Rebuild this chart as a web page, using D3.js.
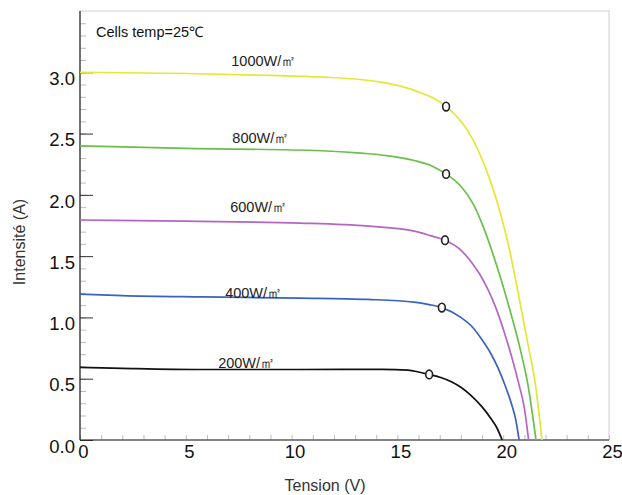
<!DOCTYPE html>
<html>
<head>
<meta charset="utf-8">
<script src="https://cdn.jsdelivr.net/npm/d3@7"></script>
<style>
  body { margin: 0; background: #fff; }
  svg { display: block; font-family: "Liberation Sans", Arial, sans-serif; }
</style>
</head>
<body>
<script>
// I-V curves (V in volts, I in amps)
const irradiance = ["1000W/㎡", "800W/㎡", "600W/㎡", "400W/㎡", "200W/㎡"];
const colors = ["#e6e636", "#6abf4b", "#b565c2", "#3a62c0", "#111111"];

const v1000 = [0, 5, 9, 11.5, 13, 14.2, 15.2, 16, 16.7, 17.3, 17.8, 18.3, 18.8, 19.4, 19.9, 20.3, 20.65, 21.15, 21.55, 21.83];
const i1000 = [3.0, 2.99, 2.975, 2.96, 2.945, 2.92, 2.885, 2.84, 2.79, 2.72, 2.64, 2.53, 2.37, 2.11, 1.83, 1.55, 1.25, 0.80, 0.42, 0];

const v800 = [0, 5, 11.4, 13.3, 14.5, 15.8, 16.7, 17.3, 18.0, 18.6, 19.1, 19.55, 19.95, 20.3, 20.75, 21.2, 21.55];
const i800 = [2.40, 2.38, 2.36, 2.34, 2.32, 2.28, 2.23, 2.17, 2.07, 1.92, 1.72, 1.50, 1.28, 1.07, 0.78, 0.42, 0];

const v600 = [0, 5, 10.4, 13.6, 15.9, 16.6, 17.25, 18.0, 18.5, 18.9, 19.3, 19.65, 20.05, 20.4, 20.75, 21.0, 21.2];
const i600 = [1.795, 1.785, 1.77, 1.745, 1.70, 1.665, 1.63, 1.55, 1.45, 1.35, 1.22, 1.08, 0.88, 0.68, 0.45, 0.26, 0];

const v400 = [0, 2, 5.7, 10.4, 13.6, 15.8, 16.5, 17.1, 18.0, 18.5, 18.95, 19.4, 19.75, 20.1, 20.4, 20.6, 20.75];
const i400 = [1.19, 1.178, 1.167, 1.158, 1.147, 1.125, 1.105, 1.08, 1.00, 0.93, 0.83, 0.71, 0.59, 0.44, 0.29, 0.16, 0];

const v200 = [0, 2, 5.7, 10.4, 14.3, 15.5, 16.0, 16.5, 17.05, 17.55, 18.0, 18.5, 19.0, 19.4, 19.7, 19.95];
const i200 = [0.593, 0.585, 0.575, 0.575, 0.577, 0.57, 0.555, 0.535, 0.51, 0.475, 0.43, 0.36, 0.27, 0.18, 0.10, 0];

// maximum power points (open circles)
const mppV = [17.3, 17.3, 17.25, 17.1, 16.5];
const mppI = [2.72, 2.17, 1.63, 1.08, 0.535];

// where each curve label sits, in data units
const labelV = [7.15, 7.2, 7.1, 6.86, 6.53];
const labelI = [3.05, 2.42, 1.86, 1.16, 0.59];

const xTicks = [0, 5, 10, 15, 20, 25];
const yTicks = [0, 0.5, 1.0, 1.5, 2.0, 2.5, 3.0];

const voltages = [v1000, v800, v600, v400, v200];
const currents = [i1000, i800, i600, i400, i200];

const width = 622, height = 495;
const plotLeft = 80, plotRight = 609, plotTop = 11, plotBottom = 440;

const x = d3.scaleLinear().domain([0, 25]).range([plotLeft, plotRight]);
const y = d3.scaleLinear().domain([0, 3.5]).range([plotBottom, plotTop]);

const svg = d3.select("body").append("svg")
    .attr("width", width)
    .attr("height", height);

// light frame on top and right
svg.append("rect")
    .attr("x", plotLeft).attr("y", plotTop)
    .attr("width", plotRight - plotLeft).attr("height", plotBottom - plotTop)
    .attr("fill", "none")
    .attr("stroke", "#cfcfcf");

// minor ticks
svg.append("g")
    .attr("transform", "translate(0," + plotBottom + ")")
    .call(d3.axisBottom(x).tickValues(d3.range(0, 26, 1)).tickSize(-5).tickFormat(""))
    .call(g => g.select(".domain").remove())
    .selectAll("line").attr("stroke", "#bbb");

svg.append("g")
    .attr("transform", "translate(" + plotLeft + ",0)")
    .call(d3.axisLeft(y).tickValues(d3.range(0, 35, 1).map(d => d / 10)).tickSize(-6).tickFormat(""))
    .call(g => g.select(".domain").remove())
    .selectAll("line").attr("stroke", "#bbb");

// major y ticks
svg.append("g")
    .attr("transform", "translate(" + plotLeft + ",0)")
    .call(d3.axisLeft(y).tickValues(yTicks).tickSize(-13).tickFormat(""))
    .call(g => g.select(".domain").remove())
    .selectAll("line").attr("stroke", "#333");

// tick labels
const yAxis = svg.append("g")
    .attr("transform", "translate(" + plotLeft + ",0)")
    .call(d3.axisLeft(y).tickValues(yTicks).tickSize(0).tickPadding(5).tickFormat(d3.format(".1f")));
yAxis.select(".domain").remove();
yAxis.selectAll("text")
    .attr("dy", "0.66em")
    .attr("font-size", 18.5)
    .attr("font-family", "Liberation Sans, Arial, sans-serif")
    .attr("fill", "#111");

const xAxis = svg.append("g")
    .attr("transform", "translate(0," + plotBottom + ")")
    .call(d3.axisBottom(x).tickValues(xTicks).tickSize(0).tickPadding(5).tickFormat(d3.format("d")));
xAxis.select(".domain").remove();
xAxis.selectAll("text")
    .attr("dx", 3)
    .attr("font-size", 18.5)
    .attr("font-family", "Liberation Sans, Arial, sans-serif")
    .attr("fill", "#111");

// axis lines
svg.append("line")
    .attr("x1", plotLeft).attr("x2", plotLeft)
    .attr("y1", plotTop).attr("y2", plotBottom)
    .attr("stroke", "#222").attr("stroke-width", 1.2);
svg.append("line")
    .attr("x1", plotLeft).attr("x2", plotRight)
    .attr("y1", plotBottom).attr("y2", plotBottom)
    .attr("stroke", "#222").attr("stroke-width", 1.2);

// curves
const line = d3.line()
    .x(d => x(d[0]))
    .y(d => y(d[1]))
    .curve(d3.curveMonotoneX);

const series = irradiance.map(function (name, k) {
    return {
        name: name,
        color: colors[k],
        points: voltages[k].map((v, j) => [v, currents[k][j]])
    };
});

svg.append("g")
    .selectAll("path")
    .data(series)
    .enter().append("path")
    .attr("d", d => line(d.points))
    .attr("fill", "none")
    .attr("stroke", d => d.color)
    .attr("stroke-width", 1.7);

// MPP circles
svg.append("g")
    .selectAll("ellipse")
    .data(mppV)
    .enter().append("ellipse")
    .attr("cx", d => x(d))
    .attr("cy", (d, i) => y(mppI[i]))
    .attr("rx", 3.4)
    .attr("ry", 4.3)
    .attr("fill", "#fff")
    .attr("stroke", "#222")
    .attr("stroke-width", 1.6);

// curve labels
svg.append("g")
    .selectAll("text")
    .data(irradiance)
    .enter().append("text")
    .attr("x", (d, i) => x(labelV[i]))
    .attr("y", (d, i) => y(labelI[i]))
    .attr("font-size", 14.5)
    .attr("fill", "#222")
    .text(d => d);

svg.append("text")
    .attr("x", 96)
    .attr("y", 37)
    .attr("font-size", 14.5)
    .attr("fill", "#111")
    .text("Cells temp=25℃");

// axis titles
svg.append("text")
    .attr("x", 325)
    .attr("y", 491)
    .attr("text-anchor", "middle")
    .attr("font-size", 16)
    .attr("fill", "#333")
    .text("Tension (V)");

svg.append("text")
    .attr("transform", "translate(25,242) rotate(-90)")
    .attr("text-anchor", "middle")
    .attr("font-size", 16)
    .attr("fill", "#333")
    .text("Intensité (A)");
</script>
</body>
</html>
